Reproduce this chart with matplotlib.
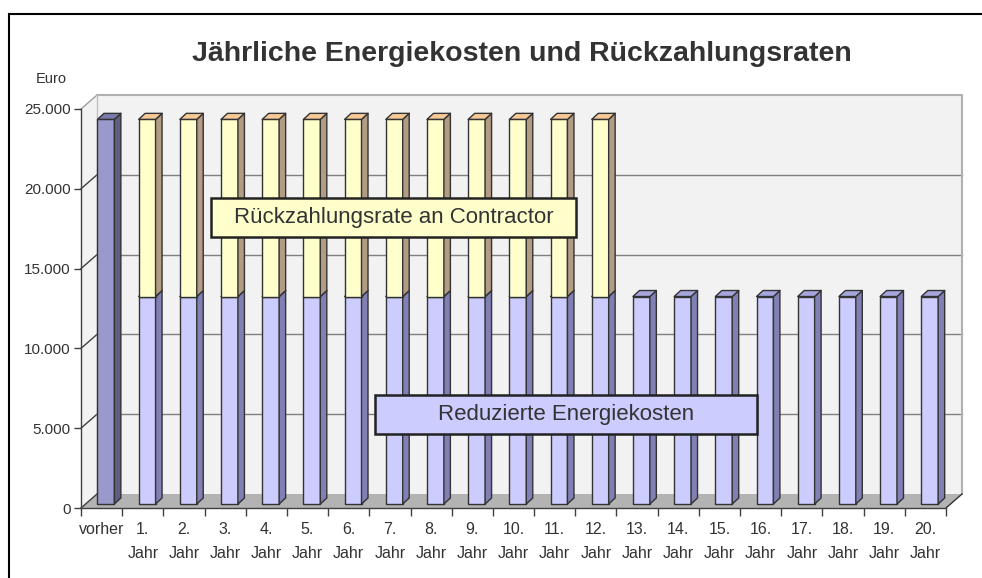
import matplotlib
matplotlib.use('Agg')
import matplotlib.pyplot as plt
from matplotlib.patches import Polygon, Rectangle
from matplotlib.ticker import FuncFormatter
import numpy as np

plt.rcParams['font.family'] = ['Liberation Sans', 'DejaVu Sans']

# data
categories = ['vorher'] + ['%d.\nJahr' % i for i in range(1, 21)]
energy_before = [24100] + [0] * 20
energy_reduced = [0] + [13000] * 20
repayment = [0] + [11100] * 12 + [0] * 8
y_ticks = [0, 5000, 10000, 15000, 20000, 25000]

# colours: front, top, side
C_BEFORE = ('#9999CC', '#7A7AAB', '#5E5E80')
C_REDUCED = ('#CCCCFF', '#A6A6DD', '#8080B4')
C_RATE = ('#FFFFCC', '#F7C996', '#B39C84')
EDGE = '#333333'
TEXT = '#333333'

W, H = 982, 578
fig = plt.figure(figsize=(W / 100, H / 100), dpi=100, facecolor='white')

# front plane of the 3d box in pixels
px_l, px_r, px_b, px_t = 81, 946, 508, 109
ax = fig.add_axes([px_l / W, 1 - px_b / H, (px_r - px_l) / W, (px_b - px_t) / H])
n = len(categories)
ymax = 25000
ax.set_xlim(0, n)
ax.set_ylim(0, ymax)
ax.patch.set_visible(False)

# pixel -> data helpers
sx = n / (px_r - px_l)
sy = ymax / (px_b - px_t)
DX, DY = 16 * sx, 14 * sy          # box depth
BDX, BDY = 6.5 * sx, 6 * sy        # bar depth
BASE = 4 * sy                      # bars stand a bit back on the floor
BAR_L, BAR_W = 0.40, 0.41

# walls and floor
ax.add_patch(Polygon([(DX, DY), (n + DX, DY), (n + DX, ymax + DY), (DX, ymax + DY)],
                     closed=True, fc='#F2F2F2', ec='none', zorder=0, clip_on=False))
ax.add_patch(Polygon([(0, 0), (DX, DY), (DX, ymax + DY), (0, ymax)],
                     closed=True, fc='#F2F2F2', ec='none', zorder=0, clip_on=False))
ax.add_patch(Polygon([(0, 0), (n, 0), (n + DX, DY), (DX, DY)],
                     closed=True, fc='#B3B3B3', ec='none', zorder=0.5, clip_on=False))
for v in y_ticks[1:-1]:
    ax.plot([DX, n + DX], [v + DY, v + DY], color='#808080', lw=1, zorder=1, clip_on=False)
    ax.plot([0, DX], [v, v + DY], color='#404040', lw=1, zorder=1, clip_on=False)
ax.plot([0, DX], [ymax, ymax + DY], color='#A0A0A0', lw=1, zorder=1, clip_on=False)
ax.plot([DX, n + DX, n + DX], [ymax + DY, ymax + DY, DY], color='#B0B0B0', lw=1.5,
        zorder=1, clip_on=False)
ax.plot([DX, DX], [DY, ymax + DY], color='#C0C0C0', lw=1, zorder=1, clip_on=False)
ax.plot([0, DX], [0, DY], color='#404040', lw=1, zorder=1, clip_on=False)
ax.plot([n, n + DX], [0, DY], color='#333333', lw=1, zorder=1, clip_on=False)


def bar3d(x0, y0, h, cols):
    if h <= 0:
        return
    front, top, side = cols
    x1 = x0 + BAR_W
    kw = dict(closed=True, ec=EDGE, lw=1, zorder=3, joinstyle='round')
    ax.add_patch(Polygon([(x0, y0), (x1, y0), (x1, y0 + h), (x0, y0 + h)], fc=front, **kw))
    ax.add_patch(Polygon([(x1, y0), (x1 + BDX, y0 + BDY), (x1 + BDX, y0 + h + BDY),
                          (x1, y0 + h)], fc=side, **kw))
    ax.add_patch(Polygon([(x0, y0 + h), (x1, y0 + h), (x1 + BDX, y0 + h + BDY),
                          (x0 + BDX, y0 + h + BDY)], fc=top, **kw))


for i in range(n):
    x0 = i + BAR_L
    bar3d(x0, BASE, energy_before[i], C_BEFORE)
    bar3d(x0, BASE, energy_reduced[i], C_REDUCED)
    bar3d(x0, BASE + energy_reduced[i], repayment[i], C_RATE)

# axes styling
for s in ['top', 'right']:
    ax.spines[s].set_visible(False)
for s in ['left', 'bottom']:
    ax.spines[s].set_color('#404040')
    ax.spines[s].set_linewidth(1)
    ax.spines[s].set_zorder(2)
ax.set_yticks(y_ticks)
ax.yaxis.set_major_formatter(FuncFormatter(lambda v, p: ('{:,.0f}'.format(v)).replace(',', '.')))
ax.tick_params(axis='y', length=5, width=1, color='#404040', labelsize=11,
               labelcolor=TEXT, pad=2.5)
ax.set_xticks(np.arange(n + 1))
ax.set_xticklabels([])
ax.tick_params(axis='x', which='major', length=6, width=1, color='#404040')
ax.set_xticks(np.arange(n) + 0.5, minor=True)
ax.set_xticklabels(categories, minor=True, linespacing=1.75)
ax.tick_params(axis='x', which='minor', length=0, labelsize=11.5, labelcolor=TEXT, pad=10)
for lab in ax.get_xticklabels(minor=True):
    lab.set_verticalalignment('top')

# title and unit
fig.text(522 / W, 1 - 54 / H, 'Jährliche Energiekosten und Rückzahlungsraten',
         ha='center', va='center', fontsize=20.5, fontweight='bold', color=TEXT)
fig.text(36 / W, 1 - 79 / H, 'Euro', ha='left', va='center', fontsize=10.5, color=TEXT)


def label_box(x0, x1, y0, y1, text, fc):
    fig.patches.append(Rectangle((x0 / W, 1 - y1 / H), (x1 - x0) / W, (y1 - y0) / H,
                                 transform=fig.transFigure, fc=fc, ec='#222222',
                                 lw=1.8, zorder=10))
    fig.text((x0 + x1) / 2 / W, 1 - (y0 + y1) / 2 / H, text, ha='center', va='center',
             fontsize=16, color=TEXT, zorder=11)


label_box(211, 576, 198, 237, 'Rückzahlungsrate an Contractor', '#FFFFCC')
label_box(375, 757, 395, 434, 'Reduzierte Energiekosten', '#CCCCFF')

# outer frame
fig.patches.append(Rectangle((9 / W, -0.1), 1.2, 1 - 14 / H + 0.1, transform=fig.transFigure,
                             fc='none', ec='black', lw=1.5, zorder=0))

fig.savefig('out.png', dpi=100, facecolor='white')
